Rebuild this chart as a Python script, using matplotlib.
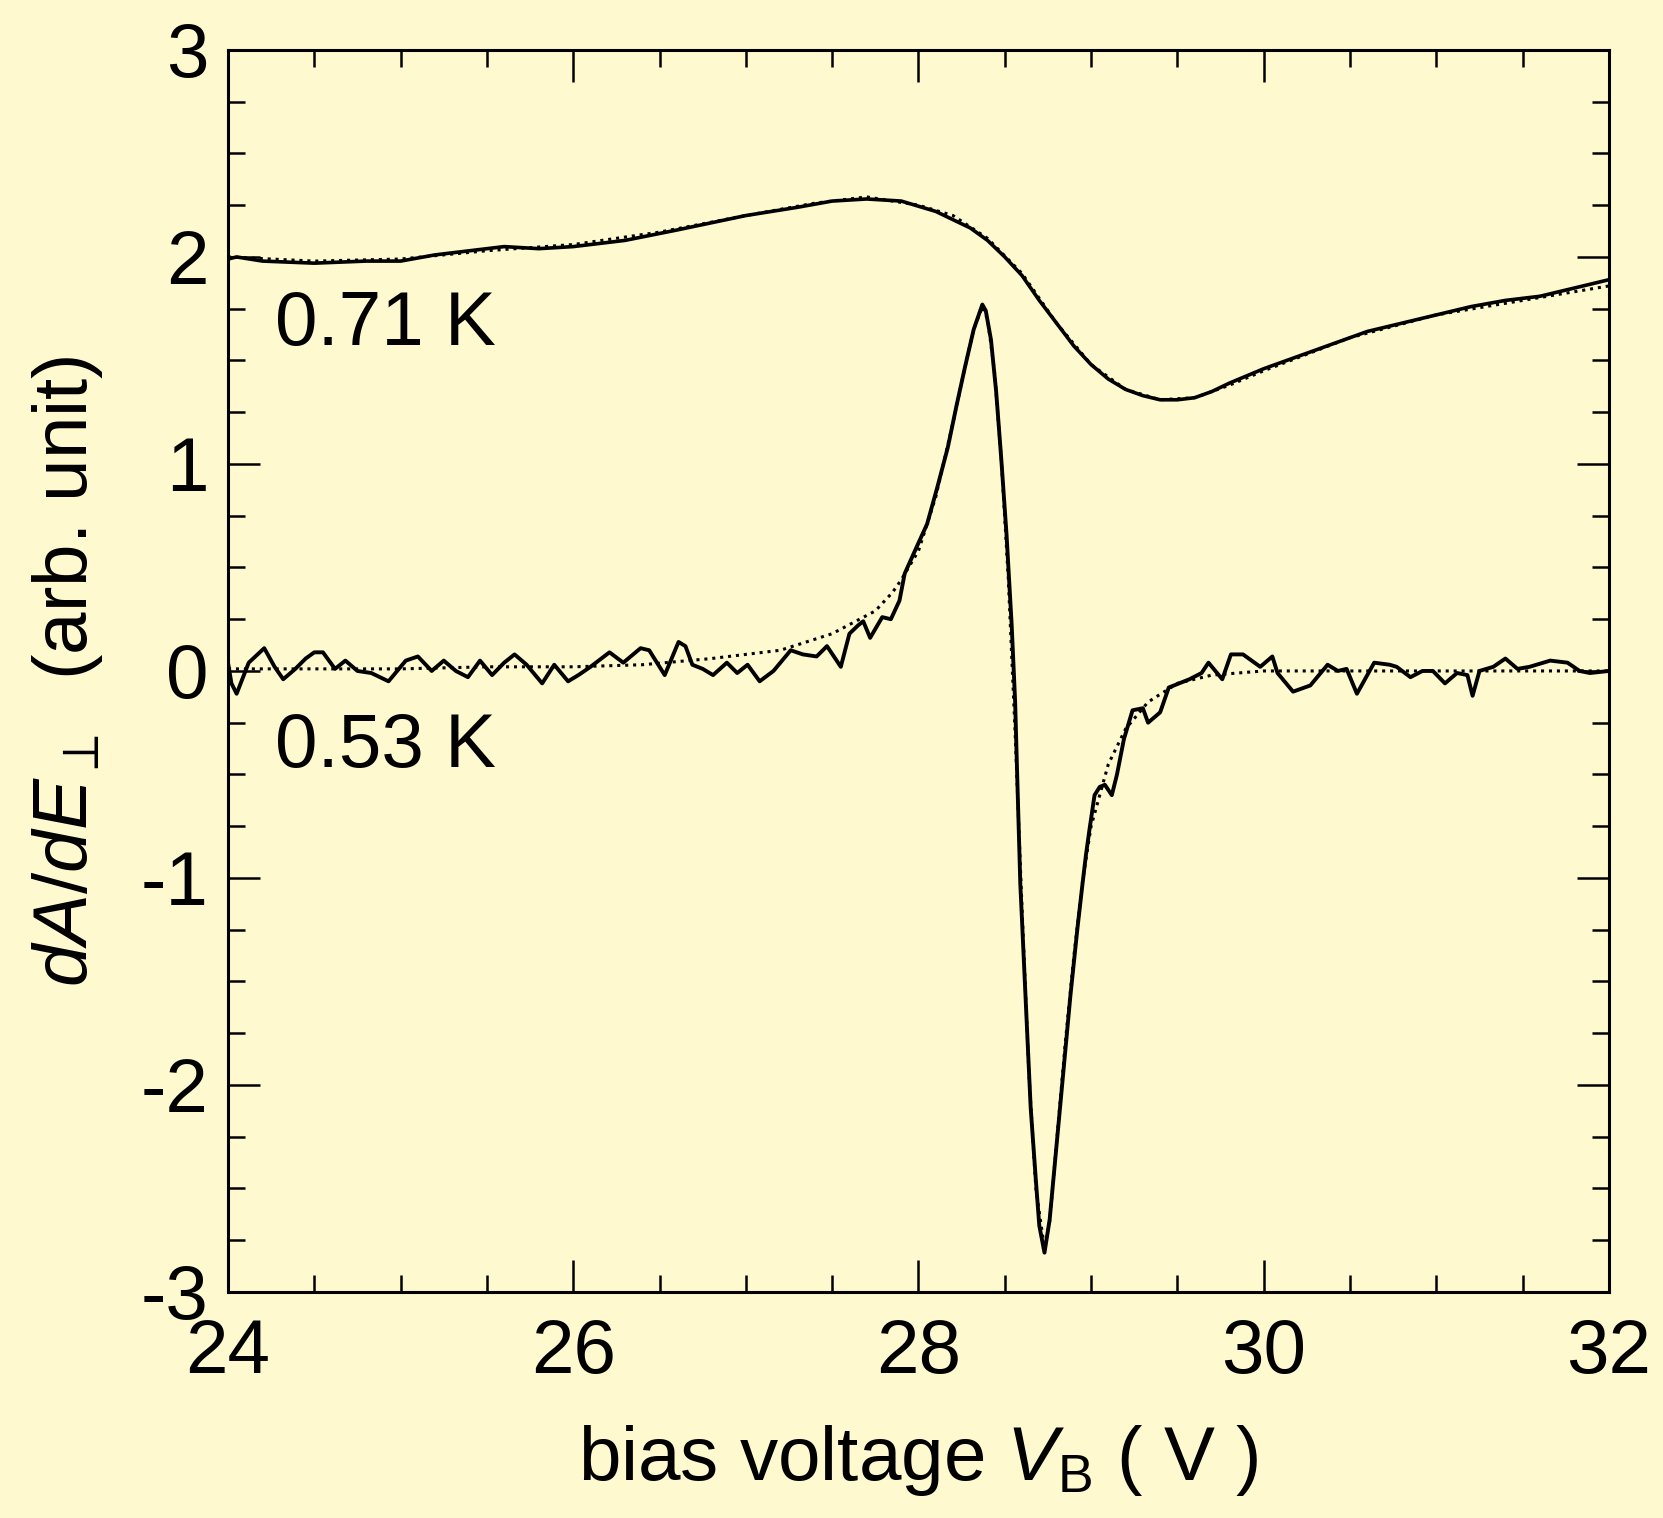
import matplotlib
matplotlib.use("Agg")
import matplotlib.pyplot as plt
from matplotlib.ticker import MultipleLocator

# 0.71 K trace (upper), measured and fit
v_hi = [24.00, 24.05, 24.20, 24.50, 24.80, 25.00, 25.20, 25.50, 25.60, 25.80, 26.00,
        26.30, 26.60, 27.00, 27.30, 27.50, 27.70, 27.90, 28.10, 28.30, 28.40, 28.50,
        28.60, 28.70, 28.80, 28.90, 29.00, 29.10, 29.20, 29.30, 29.40, 29.50, 29.60,
        29.70, 29.80, 30.00, 30.20, 30.40, 30.60, 30.80, 31.00, 31.20, 31.40, 31.60,
        31.80, 32.00]
a_hi = [1.99, 2.00, 1.98, 1.97, 1.98, 1.98, 2.01, 2.04, 2.05, 2.04, 2.05,
        2.08, 2.13, 2.20, 2.24, 2.27, 2.28, 2.27, 2.22, 2.14, 2.08, 2.00,
        1.91, 1.79, 1.68, 1.57, 1.48, 1.41, 1.36, 1.33, 1.31, 1.31, 1.32,
        1.35, 1.39, 1.46, 1.52, 1.58, 1.64, 1.68, 1.72, 1.76, 1.79, 1.81,
        1.85, 1.89]
v_hi_fit = [24.00, 24.50, 25.00, 25.50, 26.00, 26.50, 27.00, 27.40, 27.70, 28.00,
            28.20, 28.40, 28.60, 28.80, 29.00, 29.20, 29.40, 29.60, 29.80, 30.00,
            30.50, 31.00, 31.50, 32.00]
a_hi_fit = [2.00, 1.98, 1.99, 2.03, 2.06, 2.12, 2.20, 2.26, 2.29, 2.25,
            2.20, 2.09, 1.92, 1.68, 1.48, 1.36, 1.31, 1.32, 1.38, 1.45,
            1.61, 1.72, 1.79, 1.86]

# 0.53 K trace (lower), measured and fit
v_lo = [24.00, 24.02, 24.05, 24.12, 24.21, 24.27, 24.32, 24.39, 24.45, 24.50, 24.55,
        24.62, 24.68, 24.75, 24.83, 24.93, 25.03, 25.10, 25.18, 25.25, 25.32, 25.39,
        25.46, 25.53, 25.60, 25.66, 25.73, 25.82, 25.89, 25.97, 26.03, 26.10, 26.21,
        26.29, 26.39, 26.44, 26.53, 26.61, 26.65, 26.69, 26.75, 26.81, 26.89, 26.95,
        27.01, 27.08, 27.16, 27.26, 27.33, 27.41, 27.47, 27.55, 27.60, 27.65, 27.68,
        27.72, 27.79, 27.84, 27.89, 27.92, 27.99, 28.05, 28.11, 28.17, 28.22, 28.27,
        28.32, 28.37, 28.39, 28.42, 28.45, 28.48, 28.51, 28.54, 28.56, 28.57,
        28.59, 28.61, 28.63, 28.65, 28.68, 28.70, 28.73, 28.76, 28.80, 28.84, 28.88,
        28.92, 28.95, 28.97, 28.99, 29.02, 29.05, 29.08, 29.12, 29.15, 29.19, 29.24,
        29.30, 29.33, 29.40, 29.45, 29.57, 29.64, 29.68, 29.76, 29.81, 29.88, 29.98,
        30.05, 30.08, 30.17, 30.27, 30.37, 30.43, 30.48, 30.54, 30.60, 30.64, 30.73,
        30.77, 30.85, 30.92, 30.98, 31.05, 31.12, 31.18, 31.21, 31.25, 31.33, 31.40,
        31.47, 31.54, 31.66, 31.76, 31.83, 31.89, 32.00]
a_lo = [0.04, -0.06, -0.11, 0.04, 0.11, 0.02, -0.04, 0.01, 0.06, 0.09, 0.09,
        0.01, 0.05, 0.00, -0.01, -0.05, 0.05, 0.07, 0.00, 0.05, 0.00, -0.03,
        0.05, -0.02, 0.04, 0.08, 0.03, -0.06, 0.03, -0.05, -0.02, 0.02, 0.09,
        0.04, 0.11, 0.10, -0.02, 0.14, 0.12, 0.03, 0.01, -0.02, 0.04, -0.01,
        0.03, -0.05, 0.00, 0.10, 0.08, 0.07, 0.12, 0.02, 0.18, 0.22, 0.24,
        0.16, 0.26, 0.25, 0.34, 0.47, 0.60, 0.71, 0.89, 1.08, 1.28, 1.47,
        1.65, 1.77, 1.74, 1.60, 1.35, 1.02, 0.66, 0.22, -0.15, -0.45,
        -1.03, -1.39, -1.75, -2.11, -2.46, -2.68, -2.81, -2.65, -2.29, -1.93, -1.57,
        -1.25, -1.03, -0.89, -0.77, -0.60, -0.56, -0.55, -0.60, -0.50, -0.33, -0.19,
        -0.18, -0.25, -0.20, -0.08, -0.04, -0.01, 0.04, -0.04, 0.08, 0.08, 0.02,
        0.07, -0.01, -0.10, -0.07, 0.03, 0.00, 0.01, -0.11, -0.02, 0.04, 0.03,
        0.02, -0.03, 0.00, 0.00, -0.06, -0.01, -0.02, -0.12, 0.00, 0.02, 0.06,
        0.01, 0.02, 0.05, 0.04, 0.00, -0.01, 0.00]
v_lo_fit = [24.00, 24.50, 25.00, 25.50, 26.00, 26.40, 26.80, 27.20, 27.50, 27.75,
            27.85, 27.90, 28.00, 28.10, 28.20, 28.27, 28.32, 28.37, 28.40, 28.44,
            28.48, 28.52, 28.56, 28.60, 28.64, 28.68, 28.73, 28.76, 28.80, 28.85,
            28.90, 28.95, 29.00, 29.10, 29.20, 29.33, 29.50, 29.70, 30.00, 31.00,
            32.00]
a_lo_fit = [0.01, 0.01, 0.01, 0.02, 0.02, 0.03, 0.06, 0.10, 0.18, 0.29,
            0.38, 0.44, 0.58, 0.84, 1.20, 1.47, 1.65, 1.76, 1.70, 1.45,
            1.02, 0.45, -0.30, -1.15, -1.95, -2.50, -2.79, -2.66, -2.28, -1.80,
            -1.38, -1.02, -0.75, -0.45, -0.28, -0.15, -0.06, -0.02, 0.00, 0.00,
            0.00]

labels = ["0.71 K", "0.53 K"]
label_pos = [(24.27, 1.67), (24.27, -0.37)]

bg = "#FFF9CF"
plt.rcParams["font.family"] = ["Liberation Sans", "DejaVu Sans"]
plt.rcParams["mathtext.fontset"] = "custom"
plt.rcParams["mathtext.rm"] = "Liberation Sans"
plt.rcParams["mathtext.it"] = "Liberation Sans:italic"
plt.rcParams["axes.unicode_minus"] = False

fig = plt.figure(figsize=(16.63, 15.18), dpi=100, facecolor=bg)
ax = fig.add_axes([0.1371, 0.1489, 0.8304, 0.8182], facecolor=bg)

ax.plot(v_hi_fit, a_hi_fit, color="black", lw=2.2, ls=(0, (1, 1.6)))
ax.plot(v_lo_fit, a_lo_fit, color="black", lw=2.2, ls=(0, (1, 1.6)))
ax.plot(v_hi, a_hi, color="black", lw=2.6)
ax.plot(v_lo, a_lo, color="black", lw=2.8)

for txt, (x, y) in zip(labels, label_pos):
    ax.text(x, y, txt, fontsize=55, va="center", ha="left")

ax.set_xlim(24, 32)
ax.set_ylim(-3, 3)
ax.xaxis.set_major_locator(MultipleLocator(2))
ax.xaxis.set_minor_locator(MultipleLocator(0.5))
ax.yaxis.set_major_locator(MultipleLocator(1))
ax.yaxis.set_minor_locator(MultipleLocator(0.25))
ax.tick_params(which="both", direction="in", top=True, right=True, width=1.8,
               labelsize=55, colors="black")
ax.tick_params(which="major", length=23)
ax.tick_params(which="minor", length=12)
ax.tick_params(axis="x", which="major", pad=19)
ax.tick_params(axis="y", which="major", pad=14)
for s in ax.spines.values():
    s.set_linewidth(2.2)

ax.set_xlabel(r"bias voltage $V_{\rm B}$ ( V )", fontsize=55, labelpad=24)
ax.set_ylabel(r"$dA/dE_{\perp}$  (arb. unit)", fontsize=55, labelpad=26)

fig.savefig("out.png", dpi=100, facecolor=bg)
